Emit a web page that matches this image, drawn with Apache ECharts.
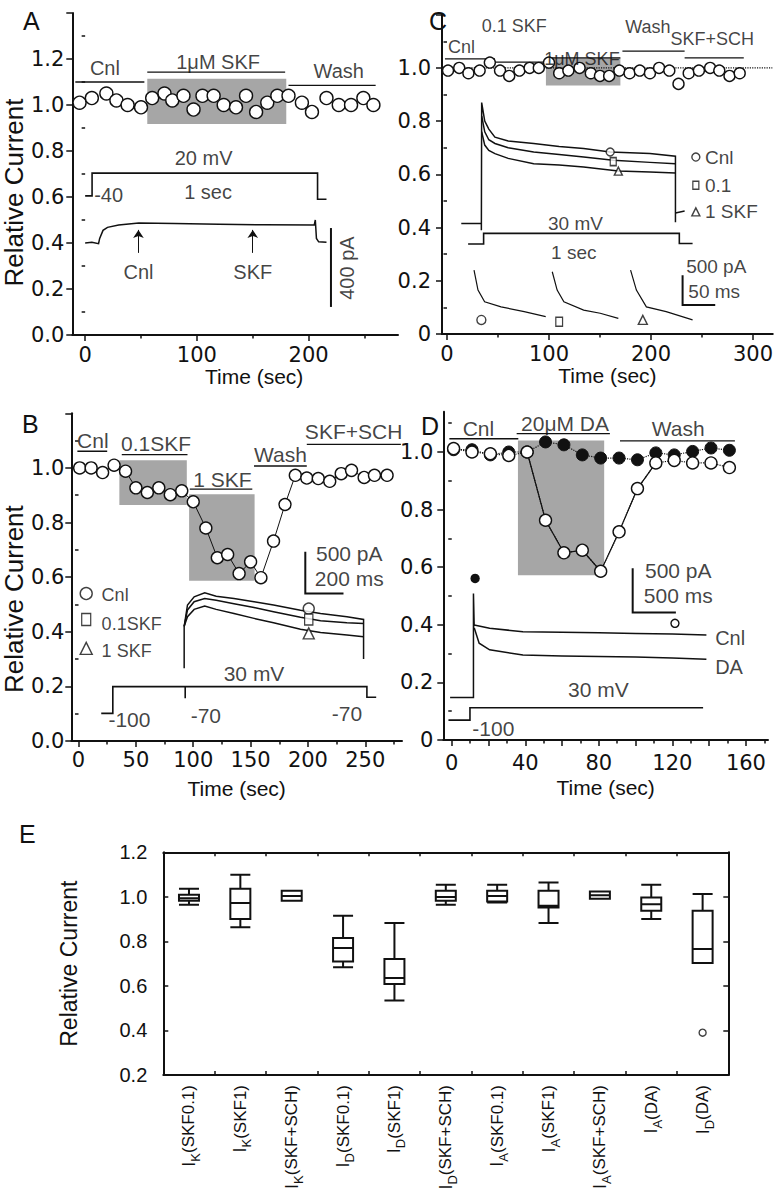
<!DOCTYPE html>
<html><head><meta charset="utf-8">
<script src="https://cdn.jsdelivr.net/npm/echarts@6/dist/echarts.min.js"></script>
<style>html,body{margin:0;padding:0;background:#fff}#c{width:776px;height:1199px}</style>
</head><body><div id="c"></div>
<script>
// ================= DATA =================
// ---- Panel A ----
const A_circle_t = [-5,6,19,28,38,50,60,71,78,88,97,105,115,124,135,144,153,163,172,182,194,203,216,227,238,249,258];
const A_circle_v = [1.01,1.03,1.05,1.02,1.00,0.99,1.03,1.05,1.02,1.04,0.98,1.04,1.04,1.00,0.99,1.04,0.97,1.01,1.04,1.04,1.01,0.97,1.03,1.00,1.00,1.03,1.00];
const A_shade = [[55.6,0.917,180,1.114]];
const A_bars = [[-8.8,53,1.10],[55.6,179,1.143],[182,260,1.085]];
const A_barLabels = [['Cnl',17.7,1.161],['1μM SKF',119,1.187],['Wash',227,1.148]];
const A_protocol = [[0,0.605],[6.2,0.605],[6.2,0.704],[208,0.704],[208,0.59],[216,0.59]];
const A_trace = [[0,0.40],[6,0.403],[12,0.397],[13,0.42],[16,0.455],[20,0.468],[30,0.478],[48,0.487],[80,0.485],[120,0.482],[160,0.479],[205,0.478],[206,0.50],[207,0.42],[209,0.405],[216,0.403]];
const A_arrows = [[47.7,0.357,0.457],[150,0.357,0.457]];
const A_texts = [['20 mV',106,0.77],['-40',21,0.609],['1 sec',110,0.622],['Cnl',47.7,0.274],['SKF',150,0.274]];
const A_scaleBar = [[[220,0.465],[220,0.122]]];
const A_scaleText = [['400 pA',234,0.291]];
const A_xTicks = [0,100,200], A_xMinor = [50,150,250];
const A_yTicks = [0,0.2,0.4,0.6,0.8,1.0,1.2,1.4], A_yLabels = [0,0.2,0.4,0.6,0.8,1.0,1.2], A_yMinor = [0.1,0.3,0.5,0.7,0.9,1.1,1.3];

// ---- Panel B ----
const B_circle_t = [1,11,21,31,41,50,60,70,80,90,100,111,121,130,140,150,159,170,180,189,199,209,219,229,238,249,258,269];
const B_circle_v = [1.0,1.0,0.983,1.01,0.988,0.927,0.91,0.927,0.902,0.916,0.876,0.78,0.671,0.683,0.613,0.656,0.598,0.732,0.866,0.973,0.963,0.961,0.951,0.979,0.991,0.965,0.973,0.973];
const B_shade = [[35.6,0.864,94.4,1.028],[96.4,0.587,153.5,0.904]];
const B_bars = [[-1,25,1.061],[37.7,95,1.049],[97,151.5,0.922],[153,199,1.007],[199,281,1.086]];
const B_barLabels = [['Cnl',12.5,1.101],['0.1SKF',67.6,1.089],['1 SKF',125.5,0.958],['Wash',176,1.05],['SKF+SCH',239.8,1.132]];
const B_traceCnl = [[92.1,0.266],[92.1,0.42],[95,0.498],[100.8,0.528],[110,0.543],[120,0.53],[135.5,0.522],[153,0.51],[170,0.498],[193.5,0.479],[211,0.467],[234,0.455],[248.5,0.445],[248.5,0.30]];
const B_trace01 = [[92.1,0.42],[95,0.48],[100.8,0.51],[110,0.522],[120,0.515],[135.5,0.503],[153,0.489],[170,0.473],[193.5,0.453],[211,0.44],[234,0.433],[248.5,0.43]];
const B_trace1 = [[92.1,0.42],[95,0.455],[100.8,0.482],[110,0.494],[120,0.482],[135.5,0.467],[153,0.449],[170,0.433],[193.5,0.409],[211,0.397],[234,0.388],[248.5,0.382]];
const B_markers = [[200.7,0.485,'circle'],[200.7,0.445,'rect'],[200.7,0.394,'triangle']];
const B_legendSym = [[6.7,0.54,'circle'],[6.7,0.445,'rect'],[6.7,0.339,'triangle']];
const B_legendText = [['Cnl',19.7,0.535],['0.1SKF',19.7,0.43],['1 SKF',19.7,0.33]];
const B_protocol = [[19.8,0.101],[29.9,0.101],[29.9,0.199],[251.4,0.199],[251.4,0.16],[259.5,0.16]];
const B_notch = [[93,0.199],[93,0.157]];
const B_texts = [['-100',44.4,0.077],['-70',111,0.095],['-70',234,0.101],['30 mV',153,0.248],['500 pA',236,0.687],['200 ms',236,0.595]];
const B_scaleBar = [[[197.7,0.693],[197.7,0.54],[231,0.54]]];
const B_xTicks = [0,50,100,150,200,250], B_xMinor = [25,75,125,175,225,275];
const B_yTicks = [0,0.2,0.4,0.6,0.8,1.0,1.2], B_yLabels = [0,0.2,0.4,0.6,0.8,1.0], B_yMinor = [0.1,0.3,0.5,0.7,0.9,1.1];

// ---- Panel C ----
const C_circle_t = [1,12,21,32,42,52,61,71,81,90,100,110,119,130,141,150,159,169,179,189,199,208,218,227,237,247,258,267,277,287];
const C_circle_v = [0.99,1.00,0.98,0.99,1.02,0.99,0.97,0.99,1.00,1.00,1.02,0.98,0.99,1.00,0.98,0.97,0.97,0.99,0.98,0.99,0.98,1.00,0.99,0.94,0.98,0.99,1.00,0.99,0.97,0.98];
const C_ref = [[[-2,1.0],[319,1.0]]];
const C_shade = [[97,0.934,170,1.038]];
const C_bars = [[-2,47,1.034],[47,94.5,1.022],[97,170,1.038],[172,233,1.063],[233,291,1.038]];
const C_barLabels = [['Cnl',14.3,1.078],['0.1 SKF',66,1.159],['1μM SKF',132.3,1.035],['Wash',197,1.153],['SKF+SCH',260,1.11]];
const C_traceCnl = [[14,0.415],[33.7,0.415],[33.7,0.39],[34,0.87],[37,0.80],[41,0.77],[47,0.74],[60,0.725],[85,0.716],[110,0.705],[134,0.697],[160,0.684],[199,0.678],[224,0.668],[224,0.42]];
const C_trace01 = [[34,0.82],[37,0.76],[41,0.73],[47,0.716],[60,0.70],[85,0.684],[110,0.675],[134,0.665],[163,0.653],[199,0.645],[224,0.640]];
const C_trace1 = [[34,0.76],[37,0.71],[41,0.69],[47,0.678],[60,0.66],[85,0.64],[110,0.635],[134,0.628],[168,0.613],[199,0.609],[224,0.605]];
const C_traceTail = [[224,0.455],[233,0.462]];
const C_markers = [[160,0.684,'circle'],[163,0.648,'rect'],[168,0.612,'triangle']];
const C_legendSym = [[244,0.665,'circle'],[244,0.559,'rect'],[244,0.459,'triangle']];
const C_legendText = [['Cnl',252.5,0.665],['0.1',252.5,0.559],['1 SKF',252.5,0.459]];
const C_protocol = [[20.7,0.338],[35.9,0.338],[35.9,0.378],[227.8,0.378],[227.8,0.340],[240.8,0.340]];
const C_texts = [['30 mV',126,0.417],['1 sec',124.3,0.308],['500 pA',264,0.253],['50 ms',262,0.159]];
const C_inset1 = [[26.5,0.24],[30.4,0.165],[36.9,0.121],[53,0.102],[75.7,0.084],[96.8,0.065]];
const C_inset2 = [[103.2,0.234],[108,0.165],[114.6,0.121],[134,0.09],[150.2,0.078],[168,0.059]];
const C_inset3 = [[180,0.24],[185.7,0.165],[195.5,0.102],[214.9,0.084],[240.8,0.053]];
const C_insetMarkers = [[33.7,0.053,'circle'],[110,0.046,'rect'],[192,0.053,'triangle']];
const C_scaleBar = [[[231,0.221],[231,0.109],[263,0.109]]];
const C_xTicks = [0,100,200,300], C_xMinor = [50,150,250];
const C_yTicks = [0,0.2,0.4,0.6,0.8,1.0,1.2], C_yLabels = [0,0.2,0.4,0.6,0.8,1.0], C_yMinor = [0.1,0.3,0.5,0.7,0.9,1.1];

// ---- Panel D ----
const D_t = [1,11,21,31,41,51,61,71,81,91,101,111,121,131,141,151];
const D_open = [1.012,1.0,0.994,0.988,1.0,0.763,0.65,0.659,0.586,0.723,0.873,0.962,0.971,0.962,0.962,0.946];
const D_filled = [1.008,1.008,0.99,1.0,1.0,1.035,1.025,0.99,0.979,0.979,0.973,0.997,0.99,1.002,1.014,1.006];
const D_shade = [[36,0.572,82.9,1.04]];
const D_bars = [[-1.3,36.2,1.046],[35.3,86,1.064],[91.5,154,1.039]];
const D_barLabels = [['Cnl',14.5,1.082],['20μM DA',61.6,1.1],['Wash',123.2,1.082]];
const D_traceStart = [[-0.9,0.148],[11.8,0.148],[11.8,0.509],[12.2,0.395]];
const D_traceCnl = [[12.2,0.399],[20.6,0.388],[38.7,0.376],[60,0.374],[80,0.372],[100,0.37],[120,0.368],[138.5,0.365]];
const D_traceDA = [[12.2,0.39],[14.9,0.336],[20.6,0.313],[38.7,0.295],[60,0.292],[80,0.29],[100,0.288],[120,0.285],[138.5,0.28]];
const D_markFilled = [[12.7,0.561]];
const D_markOpen = [[121.4,0.405]];
const D_traceNames = [['Cnl',143,0.353],['DA',143,0.252]];
const D_protocol = [[-1.8,0.069],[9.9,0.069],[9.9,0.112],[136.7,0.112]];
const D_texts = [['30 mV',79.7,0.174],['-100',22.6,0.041],['500 pA',123.2,0.59],['500 ms',123.2,0.503]];
const D_scaleBar = [[[98.4,0.596],[98.4,0.443],[121.9,0.443]]];
const D_xTicks = [0,20,40,60,80,100,120,140,160], D_xLabels = [0,40,80,120,160], D_xMinor = [10,30,50,70,90,110,130,150,170];
const D_yTicks = [0,0.2,0.4,0.6,0.8,1.0], D_yLabels = [0,0.2,0.4,0.6,0.8,1.0], D_yMinor = [0.1,0.3,0.5,0.7,0.9,1.1];

// ---- Panel E (box plot) ----
const E_sub  = ['K','K','K','D','D','D','A','A','A','A','D'];
const E_cond = ['(SKF0.1)','(SKF1)','(SKF+SCH)','(SKF0.1)','(SKF1)','(SKF+SCH)','(SKF0.1)','(SKF1)','(SKF+SCH)','(DA)','(DA)'];
const E_categories = E_sub.map((s,i)=>'I' + s + E_cond[i]);
// [min, Q1, median, Q3, max]
const E_box = [
  [0.964,0.982,0.994,1.009,1.036],
  [0.864,0.901,0.972,1.036,1.099],
  [0.982,0.982,1.004,1.027,1.027],
  [0.684,0.710,0.770,0.815,0.915],
  [0.534,0.609,0.636,0.721,0.882],
  [0.964,0.982,0.999,1.027,1.054],
  [0.975,0.979,1.004,1.027,1.054],
  [0.882,0.952,0.960,1.027,1.064],
  [0.991,0.991,1.007,1.024,1.024],
  [0.901,0.937,0.967,0.997,1.054],
  [0.703,0.703,0.766,0.937,1.013]
];
const E_outliers = [[10,0.39]];

// ================= BUILD =================
const INK = '#111';
const SHADE = '#a6a6a6';
const F_TICK = "'DejaVu Sans', sans-serif";
const F_TXT = "'Liberation Sans', Arial, sans-serif";
const option = {animation:false, backgroundColor:'#fff', title:[], grid:[], xAxis:[], yAxis:[], series:[]};
const zip = (a,b) => a.map((x,i)=>[x,b[i]]);
const fmt1 = v => (Math.abs(v) < 1e-9 ? '0' : v.toFixed(1));

function addPanel(c) {
  const gi = option.grid.length;
  option.grid.push({left:c.box[0], top:c.box[1], width:c.box[2], height:c.box[3]});
  const xi = option.xAxis.length, yi = option.yAxis.length;
  const line = {show:true, onZero:false, lineStyle:{color:INK, width:2}};
  option.xAxis.push({type:'value', gridIndex:gi, position:'bottom', min:c.x[0], max:c.x[1], axisLine:line, splitLine:{show:false},
    axisTick:{show:true, customValues:c.xTicks, length:6, lineStyle:{color:INK, width:1.5}},
    axisLabel:{customValues:c.xLabels, margin:c.xMargin, fontFamily:F_TICK, fontSize:c.tick, color:INK, formatter:v=>String(Math.round(v))},
    name:'Time (sec)', nameLocation:'middle', nameGap:c.xNameGap,
    nameTextStyle:{fontFamily:F_TXT, fontSize:21, color:INK, padding:c.xNamePad || 0}});
  option.xAxis.push({type:'value', gridIndex:gi, position:'bottom', min:c.x[0], max:c.x[1], axisLine:{show:false}, splitLine:{show:false},
    axisTick:{show:true, customValues:c.xMinor, length:3.5, lineStyle:{color:INK, width:1.5}}, axisLabel:{show:false}});
  const y = {type:'value', gridIndex:gi, position:'left', min:c.y[0], max:c.y[1], axisLine:line, splitLine:{show:false},
    axisTick:{show:true, customValues:c.yTicks, length:6, lineStyle:{color:INK, width:1.5}},
    axisLabel:{customValues:c.yLabels, margin:c.yMargin, fontFamily:F_TICK, fontSize:c.tick, color:INK, formatter:c.yFmt}};
  if (c.yName) Object.assign(y, {name:'Relative Current', nameLocation:'middle', nameGap:c.yNameGap,
    nameTextStyle:{fontFamily:F_TXT, fontSize:26, color:INK, padding:c.yNamePad || 0}});
  option.yAxis.push(y);
  option.yAxis.push({type:'value', gridIndex:gi, position:'left', min:c.y[0], max:c.y[1], axisLine:{show:false}, splitLine:{show:false},
    axisTick:{show:true, customValues:c.yMinor, length:3.5, lineStyle:{color:INK, width:1.5}}, axisLabel:{show:false}});
  option.title.push({text:c.letter, left:c.letterPos[0], top:c.letterPos[1], textStyle:{fontFamily:F_TXT, fontSize:25, fontWeight:'normal', color:INK}});
  return {xi, yi};
}
function segs(ax, list, width, extra) {
  return Object.assign({type:'lines', coordinateSystem:'cartesian2d', xAxisIndex:ax.xi, yAxisIndex:ax.yi, polyline:true, silent:true, z:3,
    lineStyle:{color:INK, width:width, opacity:1, curveness:0}, data:list.map(cc=>({coords:cc}))}, extra || {});
}
function bars(ax, list) { return segs(ax, list.map(b=>[[b[0],b[2]],[b[1],b[2]]]), 1.3); }
function pts(ax, data, symbol, size, fill, bw) {
  return {type:'scatter', xAxisIndex:ax.xi, yAxisIndex:ax.yi, symbol:symbol, symbolSize:size, silent:true, z:4, clip:false,
    itemStyle:{color:fill, borderColor:INK, borderWidth:bw || 1.4, opacity:1}, data:data};
}
function symPts(ax, list, size) {
  return {type:'scatter', xAxisIndex:ax.xi, yAxisIndex:ax.yi, silent:true, z:4, clip:false,
    itemStyle:{color:'#fff', borderColor:INK, borderWidth:1.4},
    data:list.map(d=>({value:[d[0],d[1]], symbol:d[2], symbolSize: d[2]==='rect' ? [size*0.75,size] : size}))};
}
function texts(ax, list, size, opt) {
  opt = opt || {};
  return {type:'scatter', xAxisIndex:ax.xi, yAxisIndex:ax.yi, symbolSize:1, silent:true, z:6, clip:false,
    itemStyle:{color:'rgba(0,0,0,0)'},
    label:{show:true, position: opt.left ? 'right' : 'inside', distance:0, formatter:'{b}', color:INK,
      fontFamily:F_TXT, fontSize:size, rotate:opt.rotate || 0},
    data:list.map(d=>({name:d[0], value:[d[1],d[2]]}))};
}
function shades(ax, rects) {
  return {type:'custom', xAxisIndex:ax.xi, yAxisIndex:ax.yi, silent:true, z:1, data:rects,
    renderItem:(p, api)=>{
      const p1 = api.coord([api.value(0), api.value(3)]);
      const p2 = api.coord([api.value(2), api.value(1)]);
      return {type:'rect', shape:{x:p1[0], y:p1[1], width:p2[0]-p1[0], height:p2[1]-p1[1]}, style:{fill:SHADE}};
    }};
}

// ---- A ----
const a = addPanel({box:[70,13,328,322], x:[-11.5,280], y:[0,1.4], xTicks:A_xTicks, xLabels:A_xTicks, xMinor:A_xMinor,
  yTicks:A_yTicks, yLabels:A_yLabels, yMinor:A_yMinor, yFmt:v=>v.toFixed(1), tick:21, xMargin:9, yMargin:8,
  xNameGap:25, xNamePad:[0,0,0,38], yName:true, yNameGap:38, yNamePad:[0,37,0,0], letter:'A', letterPos:[18,3]});
option.series.push(shades(a, A_shade));
option.series.push(bars(a, A_bars));
option.series.push(texts(a, A_barLabels, 20));
option.series.push(pts(a, zip(A_circle_t, A_circle_v), 'circle', 13, '#fff'));
option.series.push(segs(a, [A_protocol], 1.6));
option.series.push(segs(a, [A_trace], 1.5));
option.series.push(segs(a, A_arrows.map(r=>[[r[0],r[1]],[r[0],r[2]]]), 1, {polyline:false, symbol:['none','arrow'], symbolSize:[1,8]}));
option.series.push(texts(a, A_texts, 20));
option.series.push(segs(a, A_scaleBar, 2));
option.series.push(texts(a, A_scaleText, 20, {rotate:90}));

// ---- B ----
const b = addPanel({box:[70,413.3,332,327.7], x:[-6.3,282], y:[0,1.2], xTicks:B_xTicks, xLabels:B_xTicks, xMinor:B_xMinor,
  yTicks:B_yTicks, yLabels:B_yLabels, yMinor:B_yMinor, yFmt:v=>v.toFixed(1), tick:21, xMargin:8, yMargin:7,
  xNameGap:37, yName:true, yNameGap:38, yNamePad:[0,44,0,0], letter:'B', letterPos:[17,406]});
option.series.push(shades(b, B_shade));
option.series.push(bars(b, B_bars));
option.series.push(texts(b, B_barLabels, 21));
option.series.push({type:'line', xAxisIndex:b.xi, yAxisIndex:b.yi, data:zip(B_circle_t,B_circle_v), symbol:'circle', symbolSize:12,
  showSymbol:true, showAllSymbol:true, silent:true, z:4, lineStyle:{color:INK, width:1}, itemStyle:{color:'#fff', borderColor:INK, borderWidth:1.4}});
option.series.push(segs(b, [B_traceCnl, B_trace01, B_trace1], 1.5));
option.series.push(symPts(b, B_markers, 11));
option.series.push(symPts(b, B_legendSym, 12));
option.series.push(texts(b, B_legendText, 18, {left:true}));
option.series.push(segs(b, [B_protocol, B_notch], 1.6));
option.series.push(texts(b, B_texts, 21));
option.series.push(segs(b, B_scaleBar, 2));

// ---- C ----
const c = addPanel({box:[442,14.7,334,319.3], x:[-4.9,319.4], y:[0,1.2], xTicks:C_xTicks, xLabels:C_xTicks, xMinor:C_xMinor,
  yTicks:C_yTicks, yLabels:C_yLabels, yMinor:C_yMinor, yFmt:fmt1, tick:21, xMargin:9, yMargin:11,
  xNameGap:19, yName:false, letter:'C', letterPos:[424,3]});
option.series.push(shades(c, C_shade));
option.series.push(segs(c, C_ref, 1.2, {lineStyle:{color:INK, width:1.2, type:'dotted', opacity:1}}));
option.series.push(bars(c, C_bars));
option.series.push(pts(c, zip(C_circle_t, C_circle_v), 'circle', 11, '#fff'));
option.series.push(texts(c, C_barLabels, 18));
option.series.push(segs(c, [C_traceCnl, C_trace01, C_trace1, C_traceTail], 1.5));
option.series.push(symPts(c, C_markers, 8));
option.series.push(symPts(c, C_legendSym, 8));
option.series.push(texts(c, C_legendText, 19, {left:true}));
option.series.push(segs(c, [C_protocol], 1.6));
option.series.push(texts(c, C_texts, 19));
option.series.push(segs(c, [C_inset1, C_inset2, C_inset3], 1.2));
option.series.push(symPts(c, C_insetMarkers, 9));
option.series.push(segs(c, C_scaleBar, 2));

// ---- D ----
const d = addPanel({box:[443.3,411.7,324.7,328.3], x:[-4.6,172], y:[0,1.14], xTicks:D_xTicks, xLabels:D_xLabels, xMinor:D_xMinor,
  yTicks:D_yTicks, yLabels:D_yLabels, yMinor:D_yMinor, yFmt:fmt1, tick:21, xMargin:12, yMargin:10,
  xNameGap:37, yName:false, letter:'D', letterPos:[416,408]});
option.series.push(shades(d, D_shade));
option.series.push(bars(d, D_bars));
option.series.push(texts(d, D_barLabels, 21));
const D_openPts = zip(D_t, D_open);
option.series.push({type:'line', xAxisIndex:d.xi, yAxisIndex:d.yi, data:zip(D_t, D_filled), symbol:'circle', symbolSize:12,
  showSymbol:true, showAllSymbol:true, silent:true, z:3, lineStyle:{color:INK, width:1.2, type:'dotted'}, itemStyle:{color:INK, borderColor:INK}});
option.series.push({type:'line', xAxisIndex:d.xi, yAxisIndex:d.yi, data:D_openPts, symbol:'circle', symbolSize:12,
  showSymbol:true, showAllSymbol:true, silent:true, z:4, lineStyle:{color:INK, width:1.2, type:'dotted'}, itemStyle:{color:'#fff', borderColor:INK, borderWidth:1.4}});
option.series.push({type:'line', xAxisIndex:d.xi, yAxisIndex:d.yi, data:D_openPts.slice(4,12), symbol:'none', silent:true, z:3,
  lineStyle:{color:INK, width:1.2}});
option.series.push(segs(d, [D_traceStart, D_traceCnl, D_traceDA], 1.5));
option.series.push(pts(d, D_markFilled, 'circle', 8, INK));
option.series.push(pts(d, D_markOpen, 'circle', 8, '#fff'));
option.series.push(texts(d, D_traceNames, 20, {left:true}));
option.series.push(segs(d, [D_protocol], 1.6));
option.series.push(texts(d, D_texts, 21));
option.series.push(segs(d, D_scaleBar, 2));

// ---- E ----
const eg = option.grid.length;
option.grid.push({left:163.3, top:852.3, width:565, height:222.7});
const exi = option.xAxis.length, eyi = option.yAxis.length;
const eLine = {show:true, onZero:false, lineStyle:{color:INK, width:2}};
option.xAxis.push({type:'category', gridIndex:eg, position:'bottom', data:E_categories, boundaryGap:true, axisLine:eLine,
  axisTick:{show:true, inside:true, length:4, interval:0, lineStyle:{color:INK, width:1.5}},
  axisLabel:{interval:0, rotate:90, margin:10, color:INK,
    formatter:(v,i)=>'{i|I}{s|' + E_sub[i] + '}{c|' + E_cond[i] + '}',
    rich:{i:{fontFamily:F_TXT, fontSize:18, color:INK, verticalAlign:'middle', lineHeight:26},
          s:{fontFamily:F_TXT, fontSize:13, color:INK, verticalAlign:'bottom', lineHeight:14},
          c:{fontFamily:F_TXT, fontSize:17, color:INK, verticalAlign:'middle', lineHeight:26}}}});
option.xAxis.push({type:'category', gridIndex:eg, position:'top', data:E_categories, boundaryGap:true, axisLine:eLine,
  axisTick:{show:true, inside:true, length:4, interval:0, lineStyle:{color:INK, width:1.5}}, axisLabel:{show:false}});
option.yAxis.push({type:'value', gridIndex:eg, position:'left', min:0.2, max:1.2, interval:0.2, axisLine:eLine, splitLine:{show:false},
  axisTick:{show:true, inside:true, length:5, lineStyle:{color:INK, width:1.5}},
  axisLabel:{margin:16, fontFamily:F_TXT, fontSize:20, color:INK, formatter:v=>v.toFixed(1)},
  name:'Relative Current', nameLocation:'middle', nameGap:83, nameTextStyle:{fontFamily:F_TXT, fontSize:23, color:INK}});
option.yAxis.push({type:'value', gridIndex:eg, position:'right', offset:0, min:0.2, max:1.2, interval:0.2, axisLine:eLine, splitLine:{show:false},
  axisTick:{show:true, inside:true, length:5, lineStyle:{color:INK, width:1.5}}, axisLabel:{show:false}});
option.title.push({text:'E', left:14, top:816, textStyle:{fontFamily:F_TXT, fontSize:25, fontWeight:'normal', color:INK}});
option.series.push({type:'boxplot', xAxisIndex:exi, yAxisIndex:eyi, data:E_box, boxWidth:[20,20], silent:true,
  itemStyle:{color:'#fff', borderColor:INK, borderWidth:2}});
option.series.push({type:'scatter', xAxisIndex:exi, yAxisIndex:eyi, data:E_outliers, symbol:'circle', symbolSize:7, silent:true,
  itemStyle:{color:'#fff', borderColor:INK, borderWidth:1.4}});

const chart = echarts.init(document.getElementById('c'), null, {renderer:'svg', width:776, height:1199});
chart.setOption(option);
</script>
</body></html>
